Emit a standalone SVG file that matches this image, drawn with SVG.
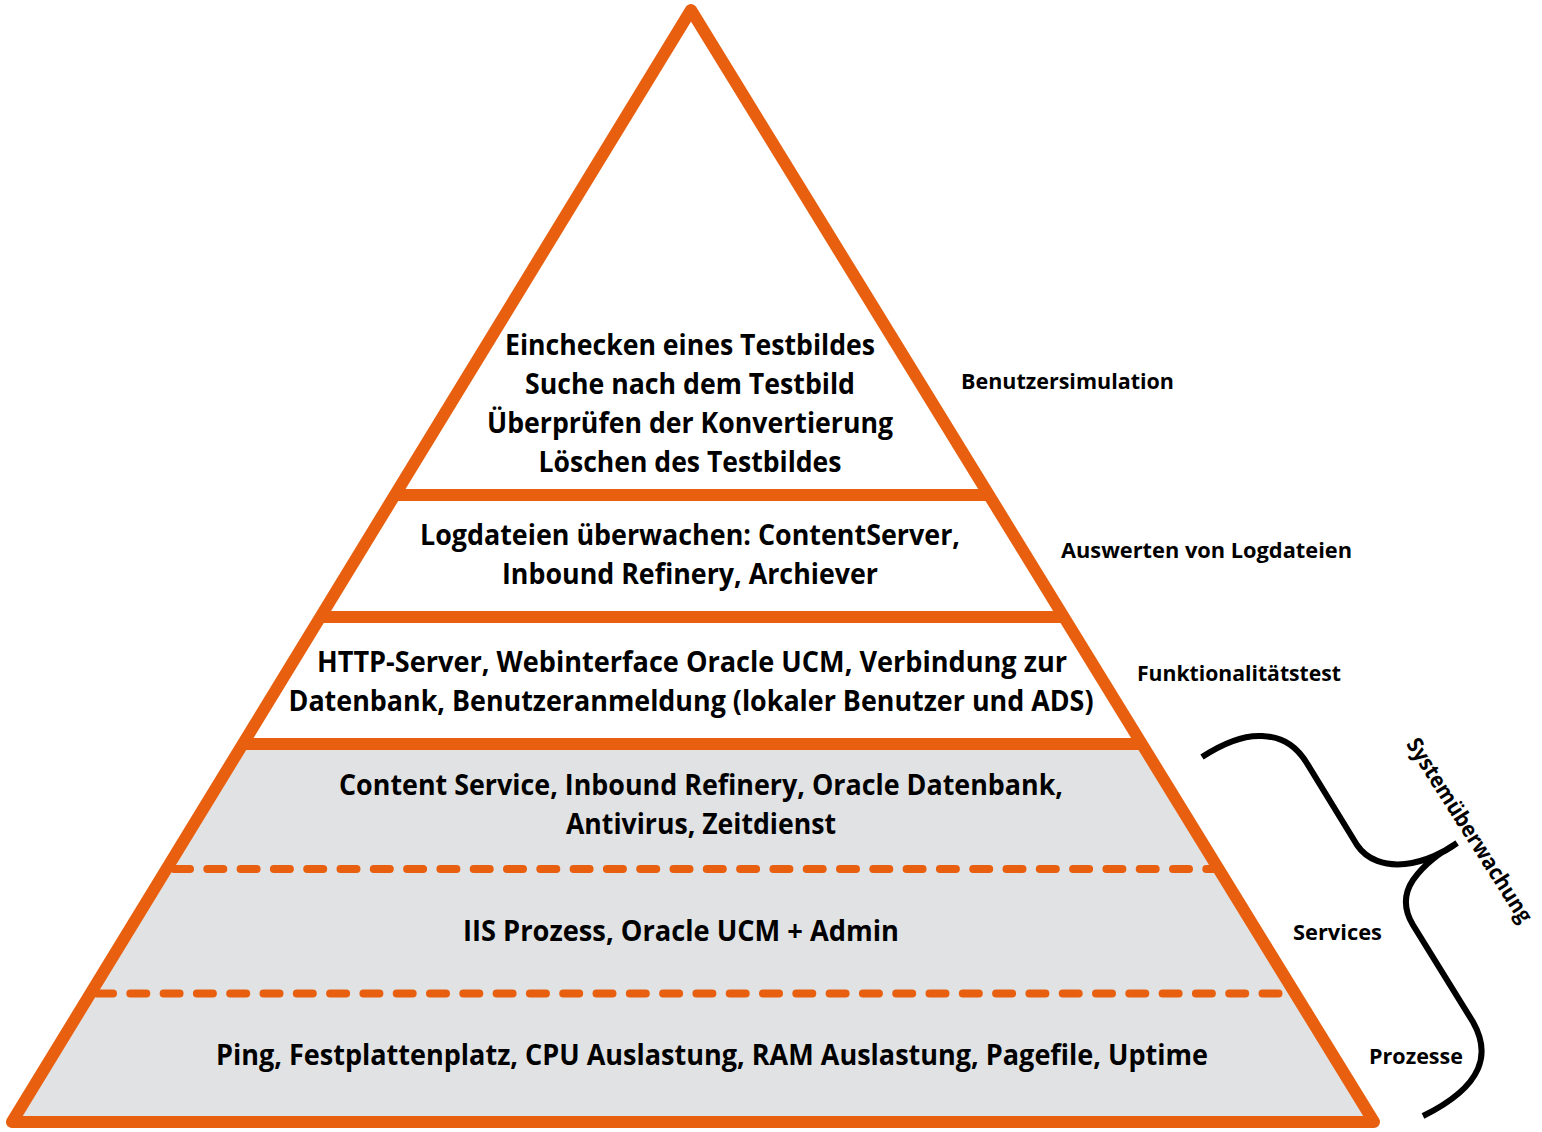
<svg xmlns="http://www.w3.org/2000/svg" width="1542" height="1132" viewBox="0 0 1542 1132">
<style>
.t{font-family:"Open Sans","Liberation Sans",sans-serif;font-weight:700;font-size:28px;fill:#000;text-anchor:middle}
.s{font-family:"Open Sans","Liberation Sans",sans-serif;font-weight:700;font-size:22px;fill:#000}
.sol{stroke:#E8600F;stroke-width:12;fill:none}
.dash{stroke:#E8600F;stroke-width:8;fill:none;stroke-linecap:round;stroke-dasharray:16 17.3}
</style>
<rect width="1542" height="1132" fill="#fff"/>
<g id="pyramid-base">
<polygon points="691,10 12,1122 1374,1122" fill="#fff"/>
<polygon points="243,744 1142,744 1374,1122 12,1122" fill="#E1E2E4"/>
</g>
<g id="layer-benutzersimulation">
<line class="sol" x1="395" y1="495" x2="989" y2="495"/>
<text class="t" x="690" y="355" textLength="370" lengthAdjust="spacingAndGlyphs">Einchecken eines Testbildes</text>
<text class="t" x="690" y="394" textLength="330" lengthAdjust="spacingAndGlyphs">Suche nach dem Testbild</text>
<text class="t" x="690" y="433" textLength="406" lengthAdjust="spacingAndGlyphs">Überprüfen der Konvertierung</text>
<text class="t" x="690" y="472" textLength="303" lengthAdjust="spacingAndGlyphs">Löschen des Testbildes</text>
<text class="s" x="961" y="389" textLength="213" lengthAdjust="spacingAndGlyphs">Benutzersimulation</text>
</g>
<g id="layer-logdateien">
<line class="sol" x1="321" y1="617" x2="1064" y2="617"/>
<text class="t" x="690" y="545" textLength="540" lengthAdjust="spacingAndGlyphs">Logdateien überwachen: ContentServer,</text>
<text class="t" x="690" y="584" textLength="376" lengthAdjust="spacingAndGlyphs">Inbound Refinery, Archiever</text>
<text class="s" x="1061" y="558" textLength="291" lengthAdjust="spacingAndGlyphs">Auswerten von Logdateien</text>
</g>
<g id="layer-funktionalitaet">
<line class="sol" x1="243" y1="744" x2="1142" y2="744"/>
<text class="t" x="692" y="672" textLength="750" lengthAdjust="spacingAndGlyphs">HTTP-Server, Webinterface Oracle UCM, Verbindung zur</text>
<text class="t" x="691" y="711" textLength="805" lengthAdjust="spacingAndGlyphs">Datenbank, Benutzeranmeldung (lokaler Benutzer und ADS)</text>
<text class="s" x="1137" y="681" textLength="204" lengthAdjust="spacingAndGlyphs">Funktionalitätstest</text>
</g>
<g id="layer-services">
<line class="dash" x1="174" y1="869" x2="1214" y2="869"/>
<text class="t" x="701" y="795" textLength="724" lengthAdjust="spacingAndGlyphs">Content Service, Inbound Refinery, Oracle Datenbank,</text>
<text class="t" x="701" y="834" textLength="270" lengthAdjust="spacingAndGlyphs">Antivirus, Zeitdienst</text>
<text class="s" x="1293" y="940" textLength="89" lengthAdjust="spacingAndGlyphs">Services</text>
</g>
<g id="layer-prozesse">
<line class="dash" x1="97" y1="993.5" x2="1290" y2="993.5"/>
<text class="t" x="681" y="941" textLength="436" lengthAdjust="spacingAndGlyphs">IIS Prozess, Oracle UCM + Admin</text>
</g>
<g id="layer-system">
<text class="t" x="712" y="1065" textLength="992" lengthAdjust="spacingAndGlyphs">Ping, Festplattenplatz, CPU Auslastung, RAM Auslastung, Pagefile, Uptime</text>
<text class="s" x="1369" y="1064" textLength="94" lengthAdjust="spacingAndGlyphs">Prozesse</text>
</g>
<g id="pyramid-outline">
<polygon points="691,10 12,1122 1374,1122" fill="none" stroke="#E8600F" stroke-width="12" stroke-linejoin="round"/>
</g>
<g id="connectors">
<path d="M1202,757 C1225,742 1245,735 1262,736 C1285,737 1298,748 1308,765 L1357,845 C1367,860 1385,866 1405,864 C1425,862 1445,852 1457,843 C1440,853 1425,863 1413,880 C1403,895 1404,910 1413,925 L1473,1022 C1490,1052 1486,1085 1423,1116" fill="none" stroke="#000" stroke-width="6"/>
</g>
<g id="label-systemueberwachung">
<text class="s" transform="translate(1470,830) rotate(57.5)" x="0" y="8" text-anchor="middle" textLength="214" lengthAdjust="spacingAndGlyphs">Systemüberwachung</text>
</g>
</svg>
